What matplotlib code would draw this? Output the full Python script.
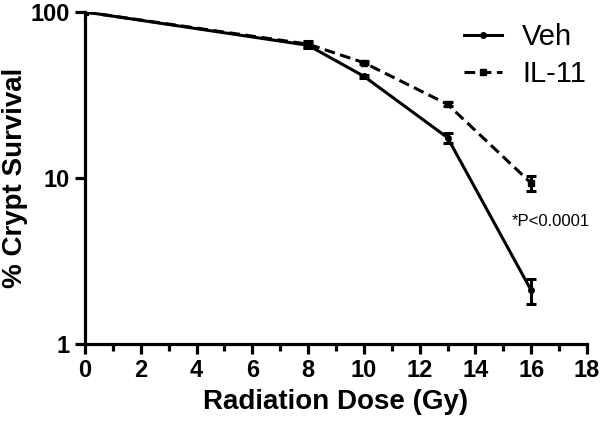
import matplotlib
matplotlib.use("Agg")
import matplotlib.pyplot as plt
from matplotlib.lines import Line2D
from matplotlib.ticker import FixedLocator, MultipleLocator, NullLocator

plt.rcParams["font.family"] = ["Liberation Sans", "DejaVu Sans"]

dose = [0, 8, 10, 13, 16]
veh = [100, 63, 41, 17.5, 2.1]
veh_err = [0, 2.0, 0.8, 1.2, 0.35]
il11 = [100, 64, 49.5, 27.8, 9.3]
il11_err = [0, 2.5, 1.0, 0.8, 1.0]

x_ticks = [0, 2, 4, 6, 8, 10, 12, 14, 16, 18]
y_ticks = [1, 10, 100]
y_labels = ["1", "10", "100"]

dash = (0, (3.5, 1.8))

fig = plt.figure(figsize=(6, 4.21), dpi=100)
ax = fig.add_axes([0.1417, 0.183, 0.8366, 0.7885])

ax.errorbar(dose, veh, yerr=veh_err, color="black", lw=2.2, ls="-",
            marker="o", ms=4, capsize=3.5, capthick=2.2, elinewidth=2.2)
ax.errorbar(dose, il11, yerr=il11_err, color="black", lw=2.2, ls=dash,
            marker="s", ms=4, capsize=3.5, capthick=2.2, elinewidth=2.2)

ax.set_yscale("log")
ax.set_xlim(0, 18)
ax.set_ylim(1, 100)
ax.xaxis.set_major_locator(FixedLocator(x_ticks))
ax.xaxis.set_minor_locator(MultipleLocator(1))
ax.yaxis.set_major_locator(FixedLocator(y_ticks))
ax.yaxis.set_minor_locator(NullLocator())
ax.set_yticklabels(y_labels)

for side in ["top", "right"]:
    ax.spines[side].set_visible(False)
for side in ["left", "bottom"]:
    ax.spines[side].set_linewidth(2.3)
ax.tick_params(axis="both", which="major", length=7, width=2.3,
               labelsize=17, pad=4)
ax.tick_params(axis="x", which="minor", length=5, width=2.3)
for lab in ax.get_xticklabels() + ax.get_yticklabels():
    lab.set_fontweight("bold")

ax.set_xlabel("Radiation Dose (Gy)", fontsize=20, fontweight="bold", labelpad=5)
ax.set_ylabel("% Crypt Survival", fontsize=20, fontweight="bold", labelpad=2)

ax.text(16.7, 5.5, "*P<0.0001", fontsize=12, ha="center", va="center")

handles = [
    Line2D([], [], color="black", lw=2.2, ls="-", marker="o", ms=4),
    Line2D([], [], color="black", lw=2.2, ls=dash, marker="s", ms=4),
]
ax.legend(handles, ["Veh", "IL-11"], loc="upper right",
          bbox_to_anchor=(1.05, 1.045), frameon=False, fontsize=21,
          handlelength=1.3, handletextpad=0.7, labelspacing=0.3)

fig.savefig("out.png", dpi=100)
